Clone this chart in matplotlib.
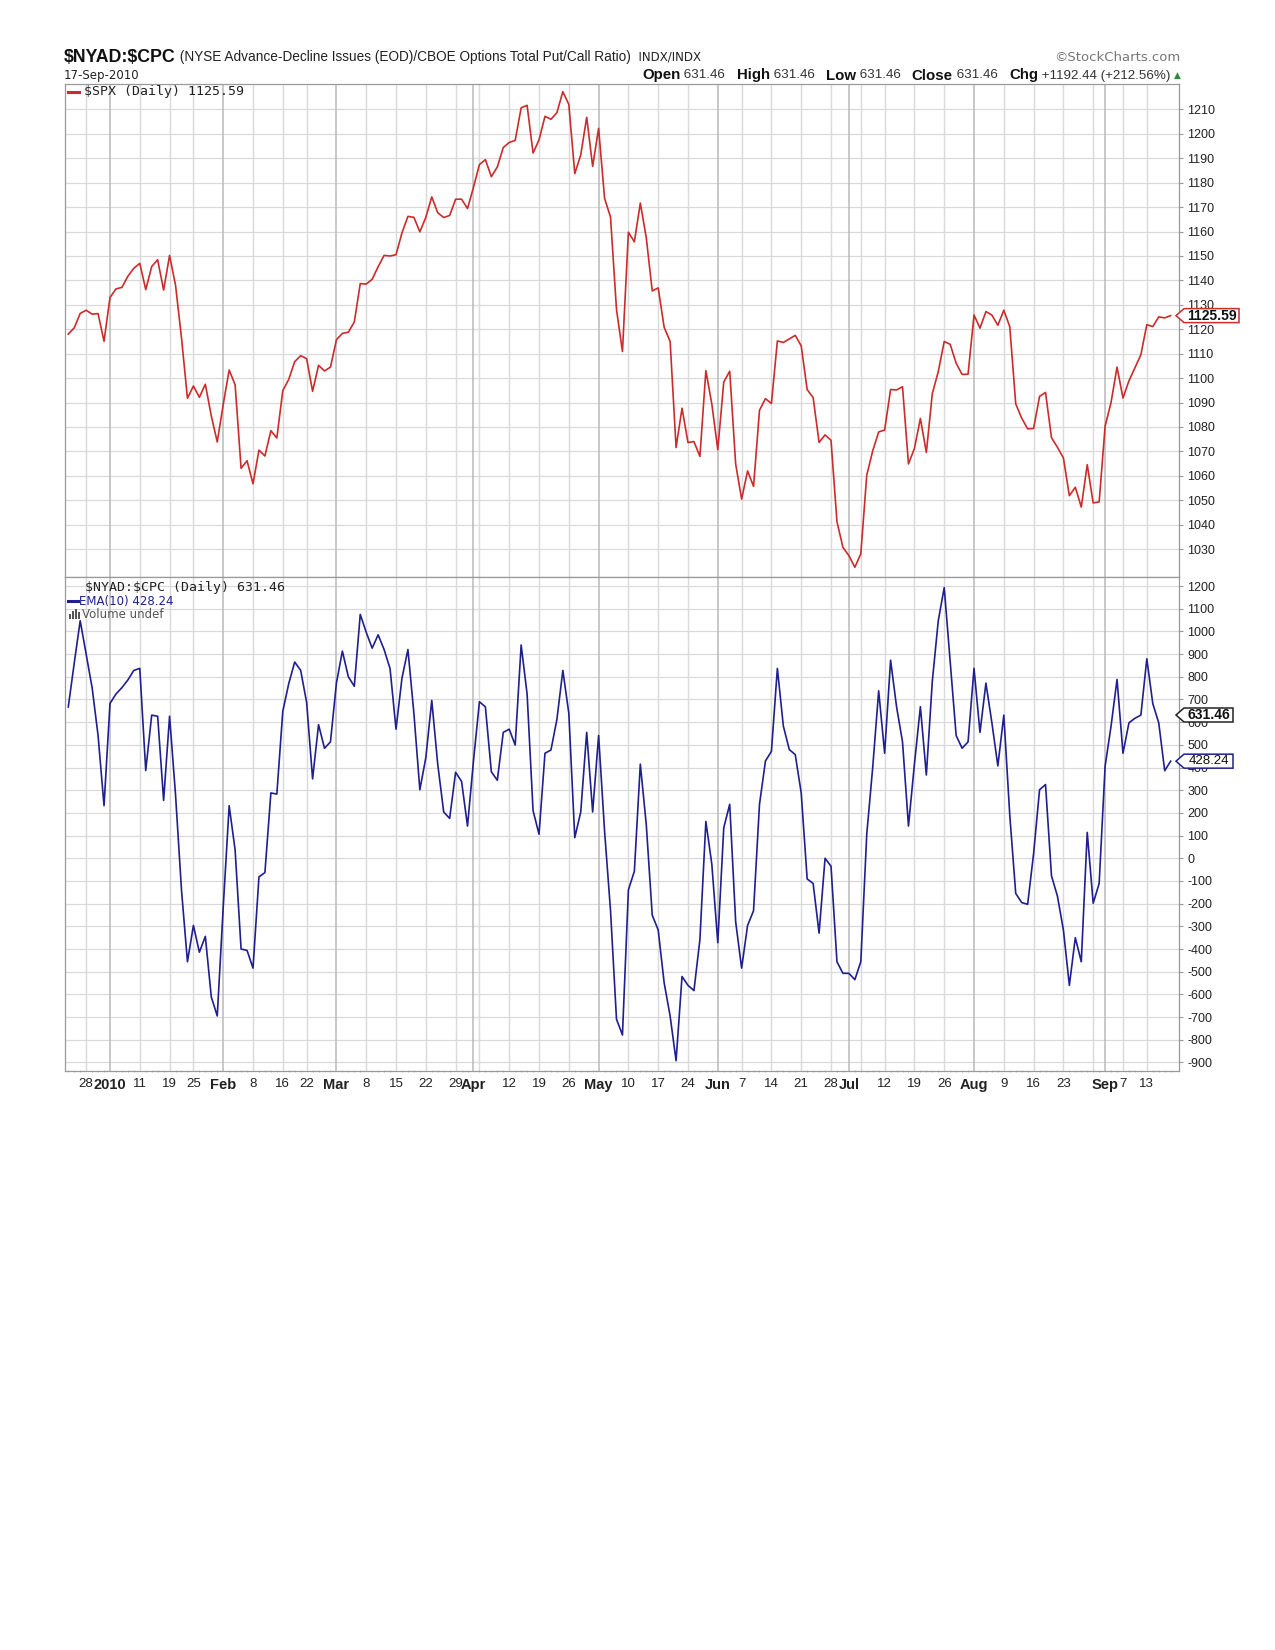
import matplotlib
matplotlib.use('Agg')
import matplotlib.pyplot as plt
import numpy as np
import pandas as pd
from matplotlib.patches import Polygon, Rectangle
from matplotlib.lines import Line2D

plt.rcParams['axes.unicode_minus'] = False
plt.rcParams['text.parse_math'] = False

# ---------------- data ----------------
holidays = ['2009-12-25', '2010-01-01', '2010-01-18', '2010-02-15', '2010-04-02',
            '2010-05-31', '2010-07-05', '2010-09-06']
dates = pd.bdate_range('2009-12-22', '2010-09-17')
dates = dates[~dates.isin(pd.to_datetime(holidays))]

spx = [1118.02, 1120.59, 1126.48, 1127.78, 1126.20, 1126.42, 1115.10,
       1132.99, 1136.52, 1137.14, 1141.69, 1144.98, 1146.98, 1136.22, 1145.68, 1148.46, 1136.03,
       1150.23, 1138.04, 1116.48, 1091.76, 1096.78, 1092.17, 1097.50, 1084.53, 1073.87,
       1089.19, 1103.32, 1097.28, 1063.11, 1066.19, 1056.74, 1070.52, 1068.13, 1078.47, 1075.51,
       1094.87, 1099.51, 1106.75, 1109.17, 1108.01, 1094.60, 1105.24, 1102.94, 1104.49,
       1115.71, 1118.31, 1118.79, 1122.97, 1138.70, 1138.50, 1140.45, 1145.61, 1150.24, 1149.99,
       1150.51, 1159.46, 1166.21, 1165.83, 1159.90, 1165.81, 1174.17, 1167.72, 1165.73, 1166.59,
       1173.22, 1173.27, 1169.43,
       1178.10, 1187.44, 1189.44, 1182.45, 1186.44, 1194.37, 1196.48, 1197.30, 1210.65, 1211.67,
       1192.13, 1197.52, 1207.17, 1205.94, 1208.67, 1217.28, 1212.05, 1183.71, 1191.36, 1206.78,
       1186.69,
       1202.26, 1173.60, 1165.90, 1128.15, 1110.88, 1159.73, 1155.79, 1171.67, 1157.44, 1135.68,
       1136.94, 1120.80, 1115.05, 1071.59, 1087.69, 1073.65, 1074.03, 1067.95, 1103.06, 1089.41,
       1070.71, 1098.38, 1102.83, 1064.88, 1050.47, 1062.00, 1055.69, 1086.84, 1091.60, 1089.63,
       1115.23, 1114.61, 1116.04, 1117.51, 1113.20, 1095.31, 1092.04, 1073.69, 1076.76, 1074.57,
       1041.24, 1030.71,
       1027.37, 1022.58, 1028.06, 1060.27, 1070.25, 1077.96, 1078.75, 1095.34, 1095.17, 1096.48,
       1064.88, 1071.25, 1083.48, 1069.59, 1093.67, 1102.66, 1115.01, 1113.84, 1106.13, 1101.53,
       1101.60,
       1125.86, 1120.46, 1127.24, 1125.81, 1121.64, 1127.79, 1121.06, 1089.47, 1083.61, 1079.25,
       1079.38, 1092.54, 1094.16, 1075.63, 1071.69, 1067.36, 1051.87, 1055.33, 1047.22, 1064.59,
       1048.92, 1049.33,
       1080.29, 1090.10, 1104.51, 1091.84, 1098.87, 1104.18, 1109.55, 1121.90, 1121.10, 1125.07,
       1124.66, 1125.59]

nyad_cpc_ema = [667, 860, 1047, 900, 752, 541, 232,
                682, 724, 752, 786, 828, 837, 387, 631, 626, 255, 626, 280, -140, -456, -296, -414,
                -344, -611, -695,
                -217, 232, 36, -400, -406, -484, -82, -63, 288, 283, 648, 770, 865, 828, 687, 350,
                589, 485, 513,
                772, 913, 800, 758, 1075, 996, 926, 985, 920, 836, 569, 794, 920, 639, 302, 443,
                696, 415, 204, 176, 379, 339, 142,
                429, 690, 667, 381, 344, 555, 569, 499, 940, 724, 210, 106, 463, 477, 612, 828,
                639, 91, 204, 555, 204,
                541, 120, -231, -709, -779, -139, -57, 415, 148, -251, -316, -549, -695, -892,
                -521, -560, -583, -358, 162, -26,
                -372, 134, 238, -280, -484, -296, -231, 238, 429, 471, 837, 583, 479, 457, 288,
                -91, -111, -330, 0, -35, -456, -507,
                -507, -535, -456, 106, 401, 738, 463, 873, 668, 513, 142, 415, 668, 367, 780,
                1047, 1193, 865, 541, 485, 513,
                837, 555, 772, 597, 407, 631, 190, -155, -195, -203, 21, 302, 325, -77, -167,
                -316, -560, -350, -456, 114, -198, -111,
                406, 583, 788, 463, 597, 617, 631, 879, 682, 597, 386, 428]

tick_dates = ['2009-12-28', '2010-01-04', '2010-01-11', '2010-01-19', '2010-01-25', '2010-02-01',
              '2010-02-08', '2010-02-16', '2010-02-22', '2010-03-01', '2010-03-08', '2010-03-15',
              '2010-03-22', '2010-03-29', '2010-04-01', '2010-04-12', '2010-04-19', '2010-04-26',
              '2010-05-03', '2010-05-10', '2010-05-17', '2010-05-24', '2010-06-01', '2010-06-07',
              '2010-06-14', '2010-06-21', '2010-06-28', '2010-07-01', '2010-07-12', '2010-07-19',
              '2010-07-26', '2010-08-02', '2010-08-09', '2010-08-16', '2010-08-23', '2010-09-01',
              '2010-09-07', '2010-09-13']
tick_labels = ['28', '2010', '11', '19', '25', 'Feb', '8', '16', '22', 'Mar', '8', '15', '22', '29',
               'Apr', '12', '19', '26', 'May', '10', '17', '24', 'Jun', '7', '14', '21', '28',
               'Jul', '12', '19', '26', 'Aug', '9', '16', '23', 'Sep', '7', '13']
bold_labels = ['2010', 'Feb', 'Mar', 'Apr', 'May', 'Jun', 'Jul', 'Aug', 'Sep']

spx_ticks = list(range(1030, 1211, 10))
osc_ticks = list(range(-900, 1201, 100))

RED = '#cc2b2b'
BLUE = '#1f1f8f'
GRID = '#dadada'
MGRID = '#b9b9b9'
SPINE = '#9a9a9a'
SANS = ['Liberation Sans', 'DejaVu Sans']
NARROW = ['Liberation Sans Narrow', 'Liberation Sans', 'DejaVu Sans']

# ---------------- figure ----------------
W, H = 1275, 1650
fig = plt.figure(figsize=(W / 100, H / 100), dpi=100)
fig.patch.set_facecolor('white')


def fx(px):
    return px / W


def fy(py):
    return 1 - py / H


L, R = 65, 1179
T1, MID, B2 = 84, 576.5, 1071
ax1 = fig.add_axes([fx(L), fy(MID), (R - L) / W, (MID - T1) / H])
ax2 = fig.add_axes([fx(L), fy(B2), (R - L) / W, (B2 - MID) / H], sharex=ax1)

x = np.arange(len(dates))
date_pos = {d: i for i, d in enumerate(dates)}

week_starts = [i for i in range(1, len(dates))
               if dates[i].isocalendar()[1] != dates[i - 1].isocalendar()[1]]
month_starts = [i for i in range(1, len(dates)) if dates[i].month != dates[i - 1].month]

for ax, ticks in ((ax1, spx_ticks), (ax2, osc_ticks)):
    for t in ticks:
        ax.axhline(t, color=GRID, lw=0.9, zorder=0)
    for i in week_starts:
        if i not in month_starts:
            ax.axvline(i, color=GRID, lw=1.0, zorder=0)
    for i in month_starts:
        ax.axvline(i, color=MGRID, lw=1.1, zorder=0)
    ax.set_yticks(ticks)
    ax.yaxis.tick_right()
    ax.tick_params(axis='y', length=3, width=0.8, color=SPINE, pad=3, labelsize=9,
                   labelcolor='#222222')
    for lab in ax.get_yticklabels():
        lab.set_family(SANS)
    for s in ax.spines.values():
        s.set_color(SPINE)
        s.set_linewidth(0.9)

ax1.plot(x, spx, color=RED, lw=1.2, zorder=3)
ax2.plot(x, nyad_cpc_ema, color=BLUE, lw=1.2, zorder=3)

ax1.set_xlim(-0.55, 186.4)
ax1.set_ylim(1018.8, 1220.4)
ax2.set_ylim(-937.5, 1241.9)

ax1.tick_params(axis='x', which='both', bottom=False, labelbottom=False)
tpos = [date_pos[pd.Timestamp(d)] for d in tick_dates]
ax2.set_xticks(tpos)
ax2.set_xticklabels(tick_labels)
ax2.set_xticks(x, minor=True)
ax2.tick_params(axis='x', which='major', length=0, pad=5, labelsize=9.5, labelcolor='#222222')
ax2.tick_params(axis='x', which='minor', length=2, width=0.6, color='#b0b0b0', direction='inout')
for lab in ax2.get_xticklabels():
    lab.set_family(SANS)
    if lab.get_text() in bold_labels:
        lab.set_fontweight('bold')
        lab.set_fontsize(10.5)

# ---------------- header ----------------
fig.canvas.draw()
renderer = fig.canvas.get_renderer()


def chain(pieces, x0, ypx, right=None):
    texts = []
    xp = x0
    for txt, kw in pieces:
        t = fig.text(fx(xp), fy(ypx), txt, va='center', ha='left', **kw)
        bb = t.get_window_extent(renderer=renderer)
        texts.append((t, xp))
        xp += bb.width
    if right is not None:
        shift = right - xp
        for t, xpos in texts:
            t.set_x(fx(xpos + shift))
    return xp


chain([('$NYAD:$CPC', dict(fontsize=12.8, fontweight='bold', family=NARROW, color='#111111')),
       (' (NYSE Advance-Decline Issues (EOD)/CBOE Options Total Put/Call Ratio)',
        dict(fontsize=9.8, family=SANS, color='#222222')),
       ('  INDX/INDX', dict(fontsize=8.5, family=['DejaVu Sans'], color='#222222'))],
      64, 57)

fig.text(fx(64), fy(75.5), '17-Sep-2010', fontsize=8.5, family=['DejaVu Sans'], va='center',
         ha='left', color='#222222')
fig.text(fx(1180), fy(57.5), '\u00a9StockCharts.com', fontsize=9.5, family=['DejaVu Sans'],
         va='center', ha='right', color='#777777')

B = dict(fontsize=10.8, fontweight='bold', family=SANS, color='#111111')
N = dict(fontsize=9.6, family=SANS, color='#333333')
chain([('Open', B), (' 631.46   ', N), ('High', B), (' 631.46   ', N), ('Low', B),
       (' 631.46   ', N), ('Close', B), (' 631.46   ', N), ('Chg', B),
       (' +1192.44 (+212.56%) ', N),
       ('\u25b2', dict(fontsize=6.5, family=['DejaVu Sans'], color='#2e8b3e'))],
      629, 75.5, right=1181)

# ---------------- in-panel legends ----------------
fig.add_artist(Line2D([fx(68), fx(79)], [fy(91.5), fy(91.5)], color=RED, lw=2.2))
fig.text(fx(84), fy(91.5), '$SPX (Daily) 1125.59', fontsize=9.5, family=['DejaVu Sans Mono'],
         va='center', ha='left', color='#222222')

fig.text(fx(85), fy(587), '$NYAD:$CPC (Daily) 631.46', fontsize=9.5,
         family=['DejaVu Sans Mono'], va='center', ha='left', color='#222222')
fig.add_artist(Line2D([fx(68), fx(78)], [fy(601), fy(601)], color=BLUE, lw=2.2))
fig.text(fx(79), fy(601), 'EMA(10) 428.24', fontsize=8.5, family=['DejaVu Sans'],
         va='center', ha='left', color=BLUE)
for k, hgt in enumerate([5, 8, 10, 7]):
    fig.add_artist(Rectangle((fx(69 + k * 3), fy(619)), 2 / W, hgt / H,
                             transform=fig.transFigure, color='#555555', lw=0))
fig.text(fx(82), fy(614), 'Volume undef', fontsize=8.5, family=['DejaVu Sans'],
         va='center', ha='left', color='#555555')


# ---------------- value tags on right axis ----------------
def tag(ax, yval, text, edge, bold, width):
    ypix = ax.transData.transform((0, yval))[1]
    ytop = H - ypix
    h = 7
    tip, left, right = 1176, 1184, 1184 + width
    pts = [(tip, ytop), (left, ytop - h), (right, ytop - h), (right, ytop + h), (left, ytop + h)]
    poly = Polygon([(fx(a), fy(b)) for a, b in pts], closed=True, transform=fig.transFigure,
                   facecolor='white', edgecolor=edge, lw=1.1, zorder=5)
    fig.add_artist(poly)
    t = fig.text(fx(left + width / 2), fy(ytop), text, fontsize=10 if bold else 9.5,
                 fontweight='bold' if bold else 'normal', family=SANS, va='center',
                 ha='center', color='#111111', zorder=6)
    return t


tag(ax1, spx[-1], '1125.59', RED, True, 55)
tag(ax2, 631.46, '631.46', '#222222', True, 49)
tag(ax2, nyad_cpc_ema[-1], '428.24', BLUE, False, 49)

fig.savefig('out.png', dpi=100, facecolor='white')
